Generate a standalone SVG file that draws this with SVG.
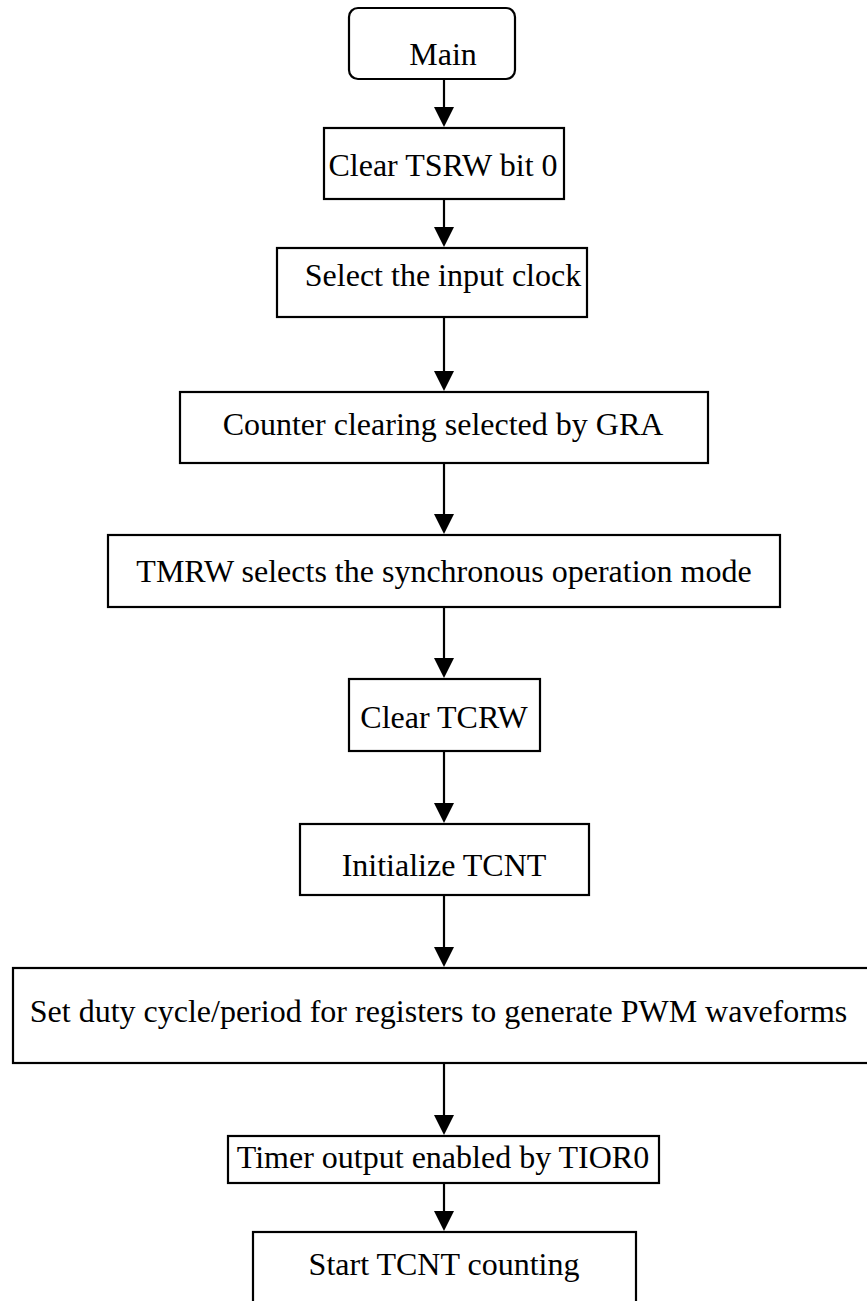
<svg xmlns="http://www.w3.org/2000/svg" width="867" height="1301" viewBox="0 0 867 1301">
<defs>
<marker id="arr" markerUnits="userSpaceOnUse" markerWidth="20" markerHeight="20" refX="0" refY="10" orient="auto" overflow="visible">
<polygon points="0,0 20,10 0,20" fill="#000"/>
</marker>
<style>
.box{fill:#fff;stroke:#000;stroke-width:2.2}
.t{font-family:"Liberation Serif","Times New Roman",serif;font-size:32px;fill:#000;text-anchor:middle}
.c{stroke:#000;stroke-width:2.2;fill:none;marker-end:url(#arr)}
</style>
</defs>
<rect width="867" height="1301" fill="#fff"/>
<g id="connectors">
<line class="c" x1="444" y1="79" x2="444" y2="107"/>
<line class="c" x1="444" y1="199" x2="444" y2="227"/>
<line class="c" x1="444" y1="317" x2="444" y2="371"/>
<line class="c" x1="444" y1="463" x2="444" y2="514"/>
<line class="c" x1="444" y1="607" x2="444" y2="658"/>
<line class="c" x1="444" y1="751" x2="444" y2="803"/>
<line class="c" x1="444" y1="895" x2="444" y2="947"/>
<line class="c" x1="444" y1="1063" x2="444" y2="1115"/>
<line class="c" x1="444" y1="1183" x2="444" y2="1211"/>
</g>
<g id="n_main">
<rect class="box" x="349" y="8" width="166" height="71" rx="9"/>
<text class="t" x="443" y="65">Main</text>
</g>
<g id="n_tsrw">
<rect class="box" x="324" y="128" width="240" height="71"/>
<text class="t" x="443" y="176">Clear TSRW bit 0</text>
</g>
<g id="n_clock">
<rect class="box" x="277" y="248" width="310" height="69"/>
<text class="t" x="443" y="286">Select the input clock</text>
</g>
<g id="n_gra">
<rect class="box" x="180" y="392" width="528" height="71"/>
<text class="t" x="443" y="435">Counter clearing selected by GRA</text>
</g>
<g id="n_tmrw">
<rect class="box" x="108" y="535" width="672" height="72"/>
<text class="t" x="444" y="582">TMRW selects the synchronous operation mode</text>
</g>
<g id="n_tcrw">
<rect class="box" x="349" y="679" width="191" height="72"/>
<text class="t" x="444" y="728">Clear TCRW</text>
</g>
<g id="n_tcnt">
<rect class="box" x="300" y="824" width="289" height="71"/>
<text class="t" x="444" y="876">Initialize TCNT</text>
</g>
<g id="n_pwm">
<rect class="box" x="13" y="968" width="870" height="95"/>
<text class="t" x="438.5" y="1022">Set duty cycle/period for registers to generate PWM waveforms</text>
</g>
<g id="n_tior">
<rect class="box" x="228" y="1136" width="431" height="47"/>
<text class="t" x="443" y="1168">Timer output enabled by TIOR0</text>
</g>
<g id="n_start">
<rect class="box" x="253" y="1232" width="383" height="80"/>
<text class="t" x="444" y="1275">Start TCNT counting</text>
</g>
</svg>
